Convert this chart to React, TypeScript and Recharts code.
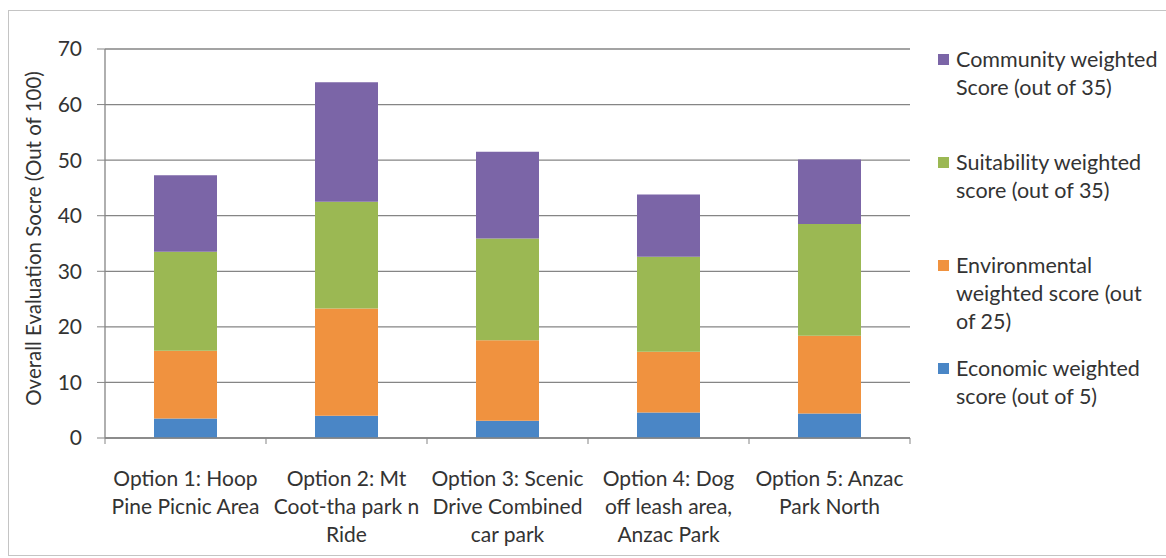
import React from 'react';
import { BarChart, Bar, XAxis, YAxis, CartesianGrid, Legend } from 'recharts';

const categories = [
  ['Option 1: Hoop', 'Pine Picnic Area'],
  ['Option 2: Mt', 'Coot-tha park n', 'Ride'],
  ['Option 3: Scenic', 'Drive Combined', 'car park'],
  ['Option 4: Dog', 'off leash area,', 'Anzac Park'],
  ['Option 5: Anzac', 'Park North'],
];

const economic = [3.5, 4.0, 3.1, 4.6, 4.4];
const environmental = [12.2, 19.3, 14.5, 10.9, 14.0];
const suitability = [17.8, 19.2, 18.3, 17.1, 20.1];
const community = [13.8, 21.5, 15.6, 11.2, 11.6];

const yTicks = [0, 10, 20, 30, 40, 50, 60, 70];

const seriesKeys = ['economic', 'environmental', 'suitability', 'community'];
const seriesNames = [
  'Economic weighted score (out of 5)',
  'Environmental weighted score (out of 25)',
  'Suitability weighted score (out of 35)',
  'Community weighted Score (out of 35)',
];
const legendLines = [
  ['Economic weighted', 'score (out of 5)'],
  ['Environmental', 'weighted score (out', 'of 25)'],
  ['Suitability weighted', 'score (out of 35)'],
  ['Community weighted', 'Score (out of 35)'],
];
const seriesColors = ['#4a86c6', '#f0923f', '#9bb853', '#7b65a7'];

const data = categories.map((lines, i) => ({
  name: lines.join(' '),
  lines,
  economic: economic[i],
  environmental: environmental[i],
  suitability: suitability[i],
  community: community[i],
}));

const FONT = 'Lato, "Open Sans", sans-serif';
const TEXT = '#333333';
const AXIS = '#858585';
const PLOT_W = 805;

function CategoryTick(props: any) {
  const { x, y, payload, index } = props;
  const lines: string[] = categories[index] || [payload.value];
  const band = PLOT_W / categories.length;
  return (
    <g>
      <line x1={x - band / 2} x2={x - band / 2} y1={y} y2={y + 6} stroke={AXIS} />
      {index === categories.length - 1 && (
        <line x1={x + band / 2} x2={x + band / 2} y1={y} y2={y + 6} stroke={AXIS} />
      )}
      <text x={x} y={y + 39} textAnchor="middle" fill={TEXT} fontSize={21} fontFamily={FONT}>
        {lines.map((l, i) => (
          <tspan key={i} x={x} dy={i === 0 ? 0 : 28} dominantBaseline="central">
            {l}
          </tspan>
        ))}
      </text>
    </g>
  );
}

function YLabel(props: any) {
  const vb = props.viewBox || { x: 0, y: 49, width: 105, height: 389 };
  const cy = vb.y + vb.height / 2 - 5;
  return (
    <text
      x={33}
      y={cy}
      transform={`rotate(-90, 33, ${cy})`}
      textAnchor="middle"
      dominantBaseline="central"
      fill={TEXT}
      fontSize={20.5}
      fontFamily={FONT}
    >
      Overall Evaluation Socre (Out of 100)
    </text>
  );
}

function LegendContent() {
  const order = [3, 2, 1, 0];
  return (
    <div style={{ fontFamily: FONT, fontSize: 21.5, color: TEXT }}>
      {order.map((s) => (
        <div key={s} style={{ position: 'relative', height: 103 }}>
          <div
            style={{
              position: 'absolute',
              left: 0,
              top: 9,
              width: 11,
              height: 11,
              background: seriesColors[s],
            }}
          />
          <div style={{ position: 'absolute', left: 18, top: 0, lineHeight: '28px', whiteSpace: 'nowrap' }}>
            {legendLines[s].map((l, i) => (
              <div key={i}>{l}</div>
            ))}
          </div>
        </div>
      ))}
    </div>
  );
}

export default function App() {
  return (
    <div
      style={{
        position: 'absolute',
        left: 0,
        top: 0,
        width: 1166,
        height: 558,
        overflow: 'hidden',
        background: '#fff',
      }}
    >
      <div
        style={{
          position: 'absolute',
          left: 8,
          top: 10,
          width: 1180,
          height: 544,
          border: '1.5px solid #c4c4c4',
        }}
      />
      <div style={{ position: 'absolute', left: 0, top: 0 }}>
        <BarChart
          width={1166}
          height={558}
          data={data}
          margin={{ top: 49, right: 256, bottom: 0, left: 0 }}
          barSize={63}
        >
          <CartesianGrid vertical={false} stroke={AXIS} strokeWidth={1.3} />
          <XAxis
            dataKey="name"
            height={120}
            tickLine={false}
            tickSize={0}
            tickMargin={0}
            axisLine={{ stroke: AXIS, strokeWidth: 1.3 }}
            tick={<CategoryTick />}
            interval={0}
          />
          <YAxis
            width={105}
            domain={[0, 70]}
            ticks={yTicks}
            interval={0}
            tickSize={8}
            tickMargin={15}
            tickLine={{ stroke: AXIS }}
            axisLine={{ stroke: AXIS, strokeWidth: 1.3 }}
            tick={{ fill: TEXT, fontSize: 21, fontFamily: FONT }}
            label={<YLabel />}
          />
          <Legend
            layout="vertical"
            align="center"
            verticalAlign="middle"
            content={<LegendContent />}
            wrapperStyle={{ position: 'absolute', left: 938, top: 45, width: 228, height: 420 }}
          />
          {seriesKeys.map((k, i) => (
            <Bar
              key={k}
              dataKey={k}
              name={seriesNames[i]}
              stackId="a"
              fill={seriesColors[i]}
              isAnimationActive={false}
            />
          ))}
        </BarChart>
      </div>
    </div>
  );
}
